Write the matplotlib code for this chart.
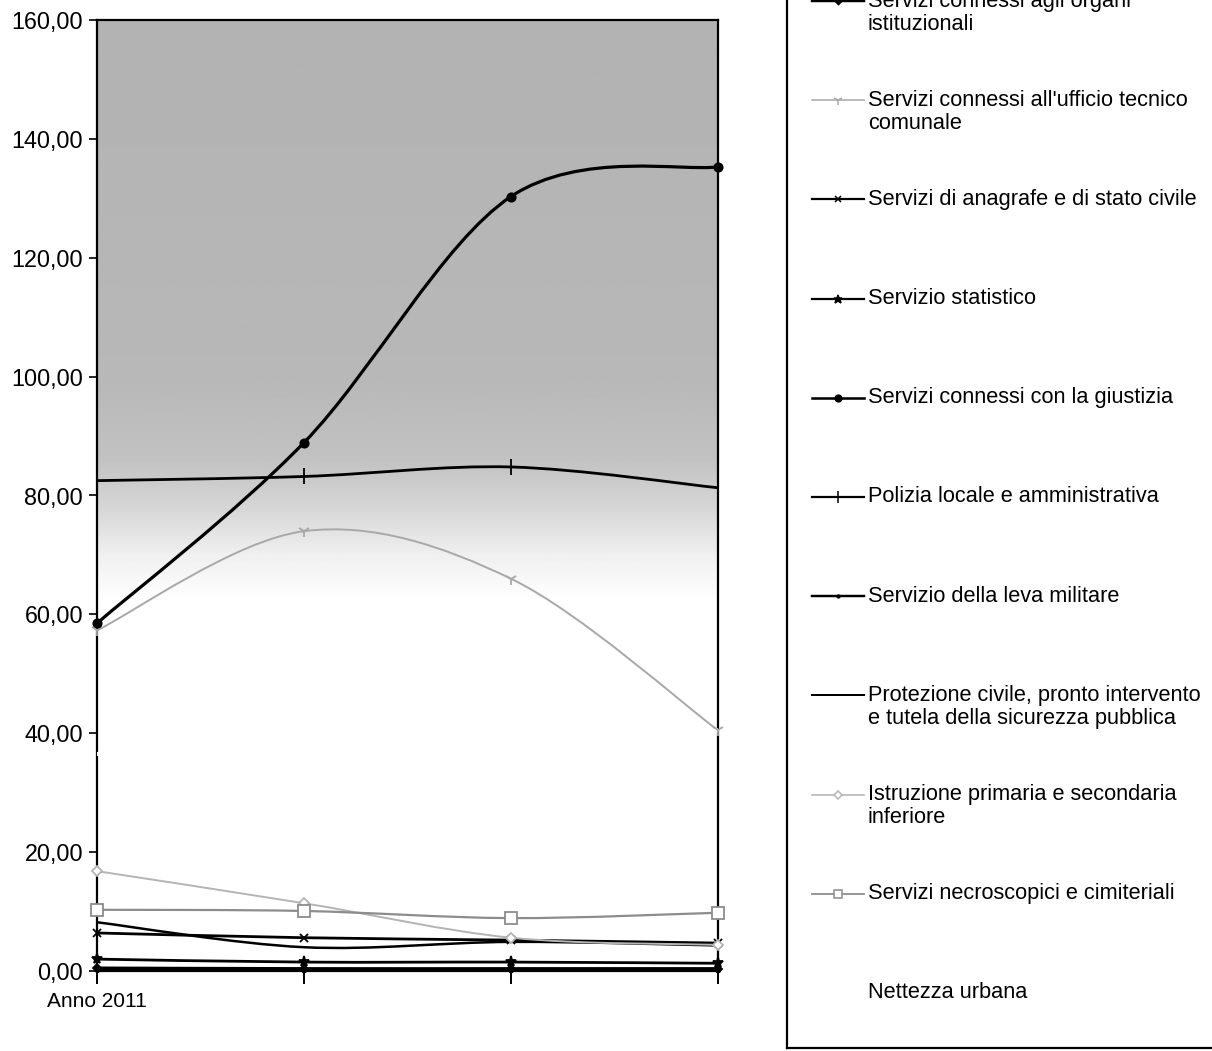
import numpy as np
import matplotlib
matplotlib.use("Agg")
import matplotlib.pyplot as plt
from matplotlib.path import Path
from matplotlib.patches import PathPatch
from matplotlib.lines import Line2D
import matplotlib.transforms as mtransforms

plt.rcParams['font.family'] = ['Liberation Sans', 'DejaVu Sans']

# categories (only the first one carries a label in the original)
categories = ["Anno 2011", "", "", ""]

# series values
organi_istituzionali = [0.5, 0.4, 0.4, 0.4]
ufficio_tecnico = [57.3, 74.0, 66.0, 40.5]
anagrafe = [6.4, 5.6, 5.2, 4.7]
statistico = [2.0, 1.5, 1.5, 1.3]
giustizia = [58.5, 88.9, 130.3, 135.3]
polizia = [82.5, 83.2, 84.8, 81.3]
leva_militare = [0.1, 0.1, 0.1, 0.1]
protezione_civile = [8.2, 4.0, 4.9, 4.3]
istruzione = [16.8, 11.4, 5.6, 4.4]
necroscopici = [10.3, 10.1, 8.9, 9.8]
nettezza_urbana = [36.5, 38.0, 39.0, 40.5]

labels = [
    "Servizi connessi agli organi\nistituzionali",
    "Servizi connessi all'ufficio tecnico\ncomunale",
    "Servizi di anagrafe e di stato civile",
    "Servizio statistico",
    "Servizi connessi con la giustizia",
    "Polizia locale e amministrativa",
    "Servizio della leva militare",
    "Protezione civile, pronto intervento\ne tutela della sicurezza pubblica",
    "Istruzione primaria e secondaria\ninferiore",
    "Servizi necroscopici e cimiteriali",
    "Nettezza urbana",
]
values = [organi_istituzionali, ufficio_tecnico, anagrafe, statistico, giustizia,
          polizia, leva_militare, protezione_civile, istruzione, necroscopici,
          nettezza_urbana]

# style per series: color, linewidth, marker, markersize, marker face
styles = [
    dict(color="black", lw=2.2, marker="D", ms=4, mfc="black"),
    dict(color="#a8a8a8", lw=1.4, marker="1", ms=9, mfc="#a8a8a8"),
    dict(color="black", lw=2.0, marker="x", ms=6, mfc="black"),
    dict(color="black", lw=2.0, marker="*", ms=8, mfc="black"),
    dict(color="black", lw=2.3, marker="o", ms=6, mfc="black"),
    dict(color="black", lw=2.0, marker="|", ms=11, mfc="black"),
    dict(color="black", lw=2.2, marker=".", ms=5, mfc="black"),
    dict(color="black", lw=1.8, marker="", ms=0, mfc="black"),
    dict(color="#b4b4b4", lw=1.4, marker="D", ms=5, mfc="white"),
    dict(color="#8c8c8c", lw=1.6, marker="s", ms=8, mfc="white"),
    dict(color="white", lw=3.0, marker="", ms=0, mfc="white"),
]


def smooth_path(xs, ys):
    # bezier segments like the smoothed lines of a spreadsheet chart
    pts = list(zip(xs, ys))
    verts = [pts[0]]
    codes = [Path.MOVETO]
    n = len(pts)
    for i in range(n - 1):
        p0 = pts[max(i - 1, 0)]
        p1 = pts[i]
        p2 = pts[i + 1]
        p3 = pts[min(i + 2, n - 1)]
        c1 = (p1[0] + (p2[0] - p0[0]) / 6, p1[1] + (p2[1] - p0[1]) / 6)
        c2 = (p2[0] - (p3[0] - p1[0]) / 6, p2[1] - (p3[1] - p1[1]) / 6)
        verts += [c1, c2, p2]
        codes += [Path.CURVE4] * 3
    return Path(verts, codes)


W, H = 1212, 1051
fig = plt.figure(figsize=(W / 100, H / 100), dpi=100)

ax = fig.add_axes([97 / W, 1 - 971 / H, (718 - 97) / W, (971 - 20) / H])
x = np.arange(len(categories))

# grey gradient fill of the upper plot area
yy = np.linspace(0, 160, 400)
shade = np.interp(yy, [0, 62, 70, 78, 86, 100, 160], [1.0, 1.0, 0.94, 0.84, 0.76, 0.72, 0.70])
ax.imshow(np.tile(shade[:, None], (1, 2)), extent=[0, 3, 0, 160], origin="lower",
          aspect="auto", cmap="gray", vmin=0, vmax=1, zorder=0, interpolation="bilinear")

order = [10, 8, 9, 1, 7, 2, 3, 6, 0, 5, 4]
for i in order:
    st = styles[i]
    ax.add_patch(PathPatch(smooth_path(x, values[i]), fill=False, edgecolor=st["color"],
                           lw=st["lw"], zorder=2 + i * 0.1, capstyle="butt"))
    if st["marker"]:
        ax.plot(x, values[i], linestyle="none", marker=st["marker"], ms=st["ms"],
                color=st["color"], mfc=st["mfc"], mec=st["color"], mew=1.3,
                zorder=3 + i * 0.1, clip_on=False)

ax.set_xlim(0, 3)
ax.set_ylim(0, 160)
ax.set_yticks(np.arange(0, 161, 20))
ax.set_yticklabels([f"{v:.2f}".replace(".", ",") for v in np.arange(0, 161, 20)],
                   fontsize=16.8)
ax.set_xticks(x)
ax.set_xticklabels(categories, fontsize=15)
for lbl in ax.get_xticklabels():
    lbl.set_transform(lbl.get_transform() + mtransforms.ScaledTranslation(0.05, 0, fig.dpi_scale_trans))
ax.tick_params(axis="y", direction="out", length=6, width=1.2, pad=4)
ax.tick_params(axis="x", direction="out", length=9, width=1.4, pad=6)
for sp in ax.spines.values():
    sp.set_linewidth(1.6)
    sp.set_color("black")

# legend box, partly outside the page like the scan
lax = fig.add_axes([787 / W, 3 / H, 0.5, 1.2])
lax.set_xlim(787, 787 + 0.5 * W)
lax.set_ylim(1048, 1048 - 1.2 * H)
lax.set_xticks([])
lax.set_yticks([])
lax.patch.set_alpha(0)
for sp in lax.spines.values():
    sp.set_linewidth(1.6)

for k, lab in enumerate(labels):
    yc = 1 + 99.2 * k
    st = styles[k]
    if st["color"] != "white":
        lax.add_line(Line2D([812, 864], [yc, yc], color=st["color"], lw=st["lw"] * 0.8))
        if st["marker"]:
            lax.plot([838], [yc], linestyle="none", marker=st["marker"], ms=st["ms"] * 0.8,
                     color=st["color"], mfc=st["mfc"], mec=st["color"], mew=1.1)
    for j, line in enumerate(lab.split("\n")):
        lax.text(868, yc + 23 * j, line, fontsize=15.7, va="center", ha="left")

fig.savefig("out.png", dpi=100)
